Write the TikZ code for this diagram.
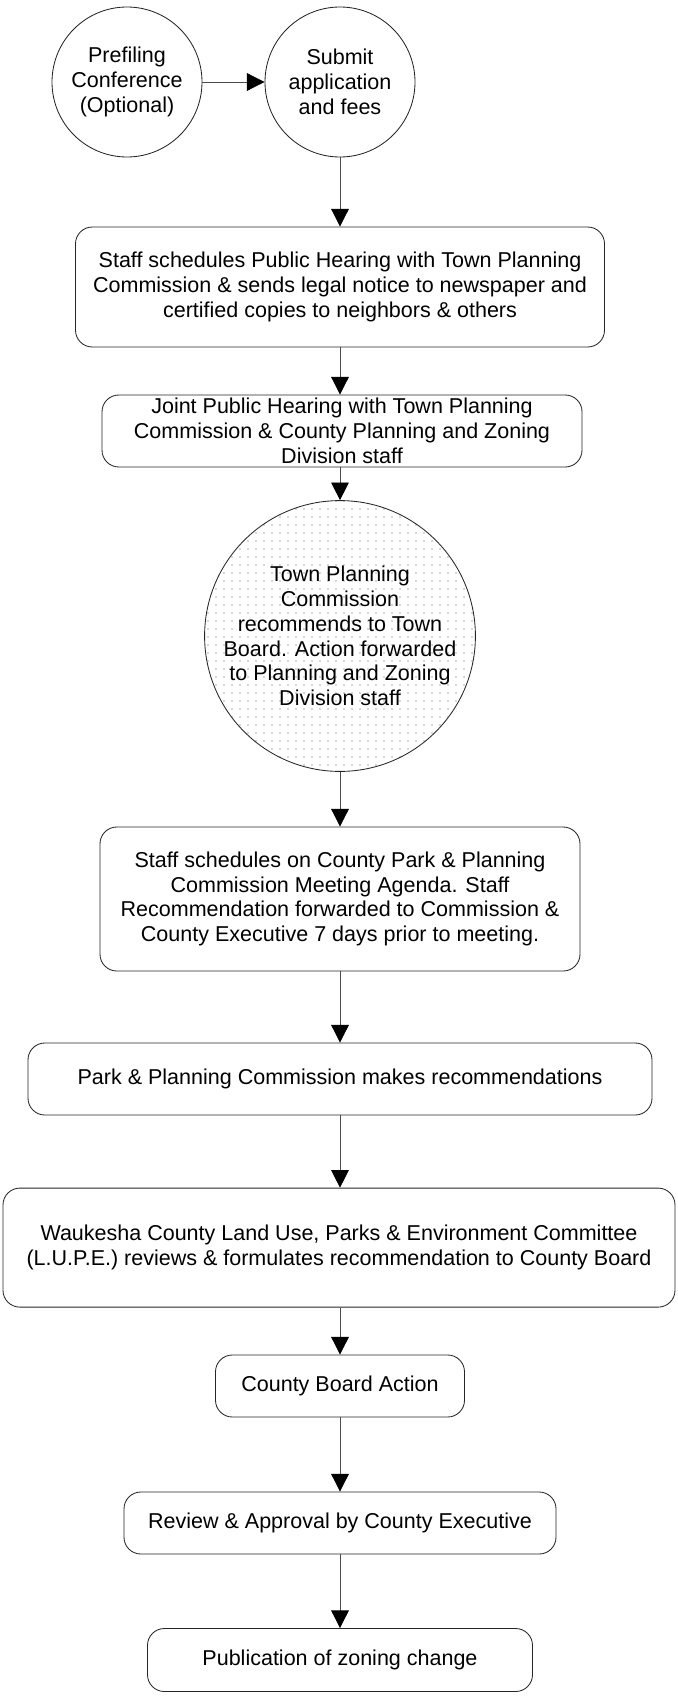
\documentclass[tikz,border=0pt]{standalone}
\usepackage{fontspec}
\setmainfont{Liberation Sans}
\usepackage{tikz}
\usetikzlibrary{arrows.meta, patterns.meta}

\begin{document}
\begin{tikzpicture}[
    every node/.style={font=\fontsize{15.3}{17.6}\selectfont, align=center, inner sep=0pt},
    stage/.style={circle, draw=black!85, line width=0.6pt, fill=white},
    task/.style={rectangle, rounded corners=0.42cm, draw=black!85, line width=0.6pt, fill=white},
    flow/.style={draw=black!70, line width=0.6pt, -{Triangle[length=0.44cm, width=0.44cm, color=black]}}
]
    \useasboundingbox (0, 0) rectangle (16.95, -42.525);

    \node[stage, minimum size=3.75cm] (pre) at (3.175, -2.05) {Prefiling\\Conference\\(Optional)};
    \node[stage, minimum size=3.75cm] (submit) at (8.5, -2.05) {Submit\\application\\and fees};

    \node[task, minimum width=13.225cm, minimum height=3.0cm] (notice) at (8.5, -7.175)
        {Staff schedules Public Hearing with Town Planning\\Commission \& sends legal notice to newspaper and\\certified copies to neighbors \& others};
    \node[task, minimum width=12.0cm, minimum height=1.8cm] (hearing) at (8.55, -10.775)
        {Joint Public Hearing with Town Planning\\Commission \& County Planning and Zoning\\Division staff};

    \node[stage, minimum size=6.25cm, pattern={Dots[distance=2mm, radius=0.45pt]}, pattern color=black!70] (town) at (8.5, -15.9)
        {Town Planning\\Commission\\recommends to Town\\Board. Action forwarded\\to Planning and Zoning\\Division staff};

    \node[task, minimum width=12.0cm, minimum height=3.6cm] (agenda) at (8.5, -22.475)
        {Staff schedules on County Park \& Planning\\Commission Meeting Agenda. Staff\\Recommendation forwarded to Commission \&\\County Executive 7 days prior to meeting.};
    \node[task, minimum width=15.6cm, minimum height=1.8cm] (park) at (8.5, -26.975)
        {Park \& Planning Commission makes recommendations};
    \node[task, minimum width=16.8cm, minimum height=2.975cm] (lupe) at (8.475, -31.19)
        {Waukesha County Land Use, Parks \& Environment Committee\\(L.U.P.E.) reviews \& formulates recommendation to County Board};
    \node[task, minimum width=6.225cm, minimum height=1.55cm] (board) at (8.5, -34.65) {County Board Action};
    \node[task, minimum width=10.8cm, minimum height=1.55cm] (exec) at (8.5, -38.075) {Review \& Approval by County Executive};
    \node[task, minimum width=9.625cm, minimum height=1.575cm] (publish) at (8.5, -41.5) {Publication of zoning change};

    \draw[flow] (pre) -- (submit);
    \draw[flow] (submit) -- (notice);
    \draw[flow] (notice.south) -- (notice.south |- hearing.north);
    \draw[flow] (hearing.south -| town.north) -- (town);
    \draw[flow] (town) -- (agenda);
    \draw[flow] (agenda) -- (park);
    \draw[flow] (park.south) -- (park.south |- lupe.north);
    \draw[flow] (lupe.south -| board.north) -- (board);
    \draw[flow] (board) -- (exec);
    \draw[flow] (exec) -- (publish);
\end{tikzpicture}
\end{document}
